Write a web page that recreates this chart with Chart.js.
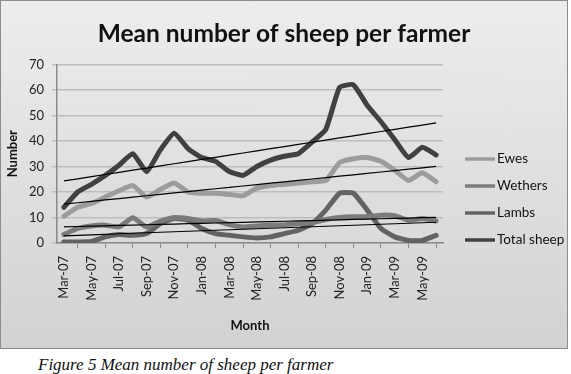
<!DOCTYPE html>
<html>
<head>
<meta charset="utf-8">
<script src="https://cdn.jsdelivr.net/npm/chart.js@4/dist/chart.umd.min.js"></script>
<style>
  html, body { margin: 0; padding: 0; background: #fff; }
  #box { position: absolute; left: 0; top: 0; width: 566px; height: 347px;
         border: 1px solid #8c8c8c; background: linear-gradient(#ededed, #d2d2d2); }
  #c { display: block; }
  #cap { position: absolute; left: 38px; top: 355px; font-family: "Liberation Serif", serif;
         font-style: italic; font-size: 17px; line-height: 20px; color: #111; white-space: nowrap; }
</style>
</head>
<body>
<div id="box"><canvas id="c" width="566" height="347"></canvas></div>
<div id="cap">Figure 5 Mean number of sheep per farmer</div>
<script>
const months = ["Mar-07","Apr-07","May-07","Jun-07","Jul-07","Aug-07","Sep-07","Oct-07","Nov-07","Dec-07",
                "Jan-08","Feb-08","Mar-08","Apr-08","May-08","Jun-08","Jul-08","Aug-08","Sep-08","Oct-08",
                "Nov-08","Dec-08","Jan-09","Feb-09","Mar-09","Apr-09","May-09","Jun-09"];
const ewes    = [10.5,14,15.5,18,20.5,22.5,18,21,23.5,20,19.5,19.5,19,18.5,21.5,22.5,23,23.5,24,24.5,31.5,33,33.5,32,28.5,24.5,27.5,24];
const wethers = [3.3,5.7,6.7,7,6.3,9.9,6.3,8.6,10,9.6,8.6,8.8,7.2,6.3,6.7,7,7.2,7.6,8,9.2,10,10.3,10.3,10.9,10.7,8.9,9.6,8.6];
const lambs   = [0.4,0.4,0.6,2.4,3.3,3,3.7,7.6,9.6,9,5.7,3.7,3,2.4,2,2.4,3.7,5,7.6,12.9,19.5,19.5,12.9,5.7,2.4,1,1,3];
const total   = [14,20,23,26.5,30.5,35,28,36.5,43,37,33.5,32,28,26.5,30,32.5,34,35,39.5,44.5,61,62,54,47.5,40.5,33.5,37.5,34.5];
const seriesNames = ["Ewes","Wethers","Lambs","Total sheep"];
const yTicks = [0,10,20,30,40,50,60,70];

// least-squares linear trend (as Excel's linear trendline)
function trend(arr){
  const n = arr.length; let sx=0, sy=0, sxx=0, sxy=0;
  arr.forEach((v,i)=>{ sx+=i; sy+=v; sxx+=i*i; sxy+=i*v; });
  const b = (n*sxy - sx*sy)/(n*sxx - sx*sx); const a = (sy - b*sx)/n;
  return arr.map((_,i)=>a+b*i);
}

const colors = ["#9c9c9c","#7b7b7b","#636363","#414141"];
const data = [ewes, wethers, lambs, total];

const datasets = [];
data.forEach((d,k)=>{
  datasets.push({ label: seriesNames[k], data: d, borderColor: colors[k], backgroundColor: colors[k],
    borderWidth: 5, pointRadius: 0, tension: 0.15, borderJoinStyle: 'round', borderCapStyle: 'round', order: 2 });
});
data.forEach((d,k)=>{
  datasets.push({ label: "trend " + seriesNames[k], data: trend(d), borderColor: "#000",
    borderWidth: 1.2, pointRadius: 0, tension: 0, order: 1 });
});

const legendPlugin = {
  id: 'customLegend',
  afterDraw(chart){
    const ctx = chart.ctx;
    const ys = [158, 185, 212, 239];
    ctx.save();
    ctx.font = '13.5px Lato';
    ctx.textBaseline = 'middle';
    for (let k = 0; k < 4; k++){
      const ds = chart.data.datasets[k];
      ctx.strokeStyle = ds.borderColor; ctx.lineWidth = 3.5;
      ctx.beginPath(); ctx.moveTo(464, ys[k]); ctx.lineTo(494, ys[k]); ctx.stroke();
      ctx.fillStyle = '#111';
      ctx.fillText(ds.label, 496, ys[k]);
    }
    ctx.restore();
  }
};

Chart.defaults.font.family = 'Lato';
new Chart(document.getElementById('c'), {
  type: 'line',
  data: { labels: months, datasets },
  plugins: [legendPlugin],
  options: {
    responsive: false, animation: false,
    layout: { padding: { left: 0, right: 0, top: 0, bottom: 10 } },
    plugins: {
      legend: { display: false },
      tooltip: { enabled: false },
      title: { display: true, text: 'Mean number of sheep per farmer', color: '#111',
               font: { size: 24.5, weight: 'bold' }, padding: { top: 18, bottom: 16 } }
    },
    scales: {
      x: {
        offset: true,
        grid: { offset: true, drawOnChartArea: false, drawTicks: true, tickLength: 5, color: '#8a8a8a' },
        border: { color: '#8a8a8a', width: 1.5 },
        ticks: { autoSkip: false, minRotation: 90, maxRotation: 90, padding: 8, color: '#222',
                 font: { size: 13 },
                 callback: function(v, i){ return i % 2 === 0 ? months[i] : null; } },
        title: { display: true, text: 'Month', color: '#111', font: { size: 13, weight: 'bold' } },
        afterFit(scale){ scale.height = 95; }
      },
      y: {
        min: 0, max: 70,
        afterBuildTicks(scale){ scale.ticks = yTicks.map(v=>({value:v})); },
        grid: { color: '#bdbdbd', lineWidth: 1.5, tickLength: 5 },
        border: { color: '#8a8a8a', width: 1.5 },
        ticks: { padding: 8, color: '#222', font: { size: 13 } },
        title: { display: true, text: 'Number', color: '#111', font: { size: 13, weight: 'bold' } },
        afterFit(scale){ scale.width = 56; }
      },
      yRight: {
        position: 'right', min: 0, max: 70,
        grid: { drawOnChartArea: false, drawTicks: false },
        border: { display: false },
        ticks: { display: false },
        afterFit(scale){ scale.width = 124; }
      }
    }
  }
});
</script>
</body>
</html>
